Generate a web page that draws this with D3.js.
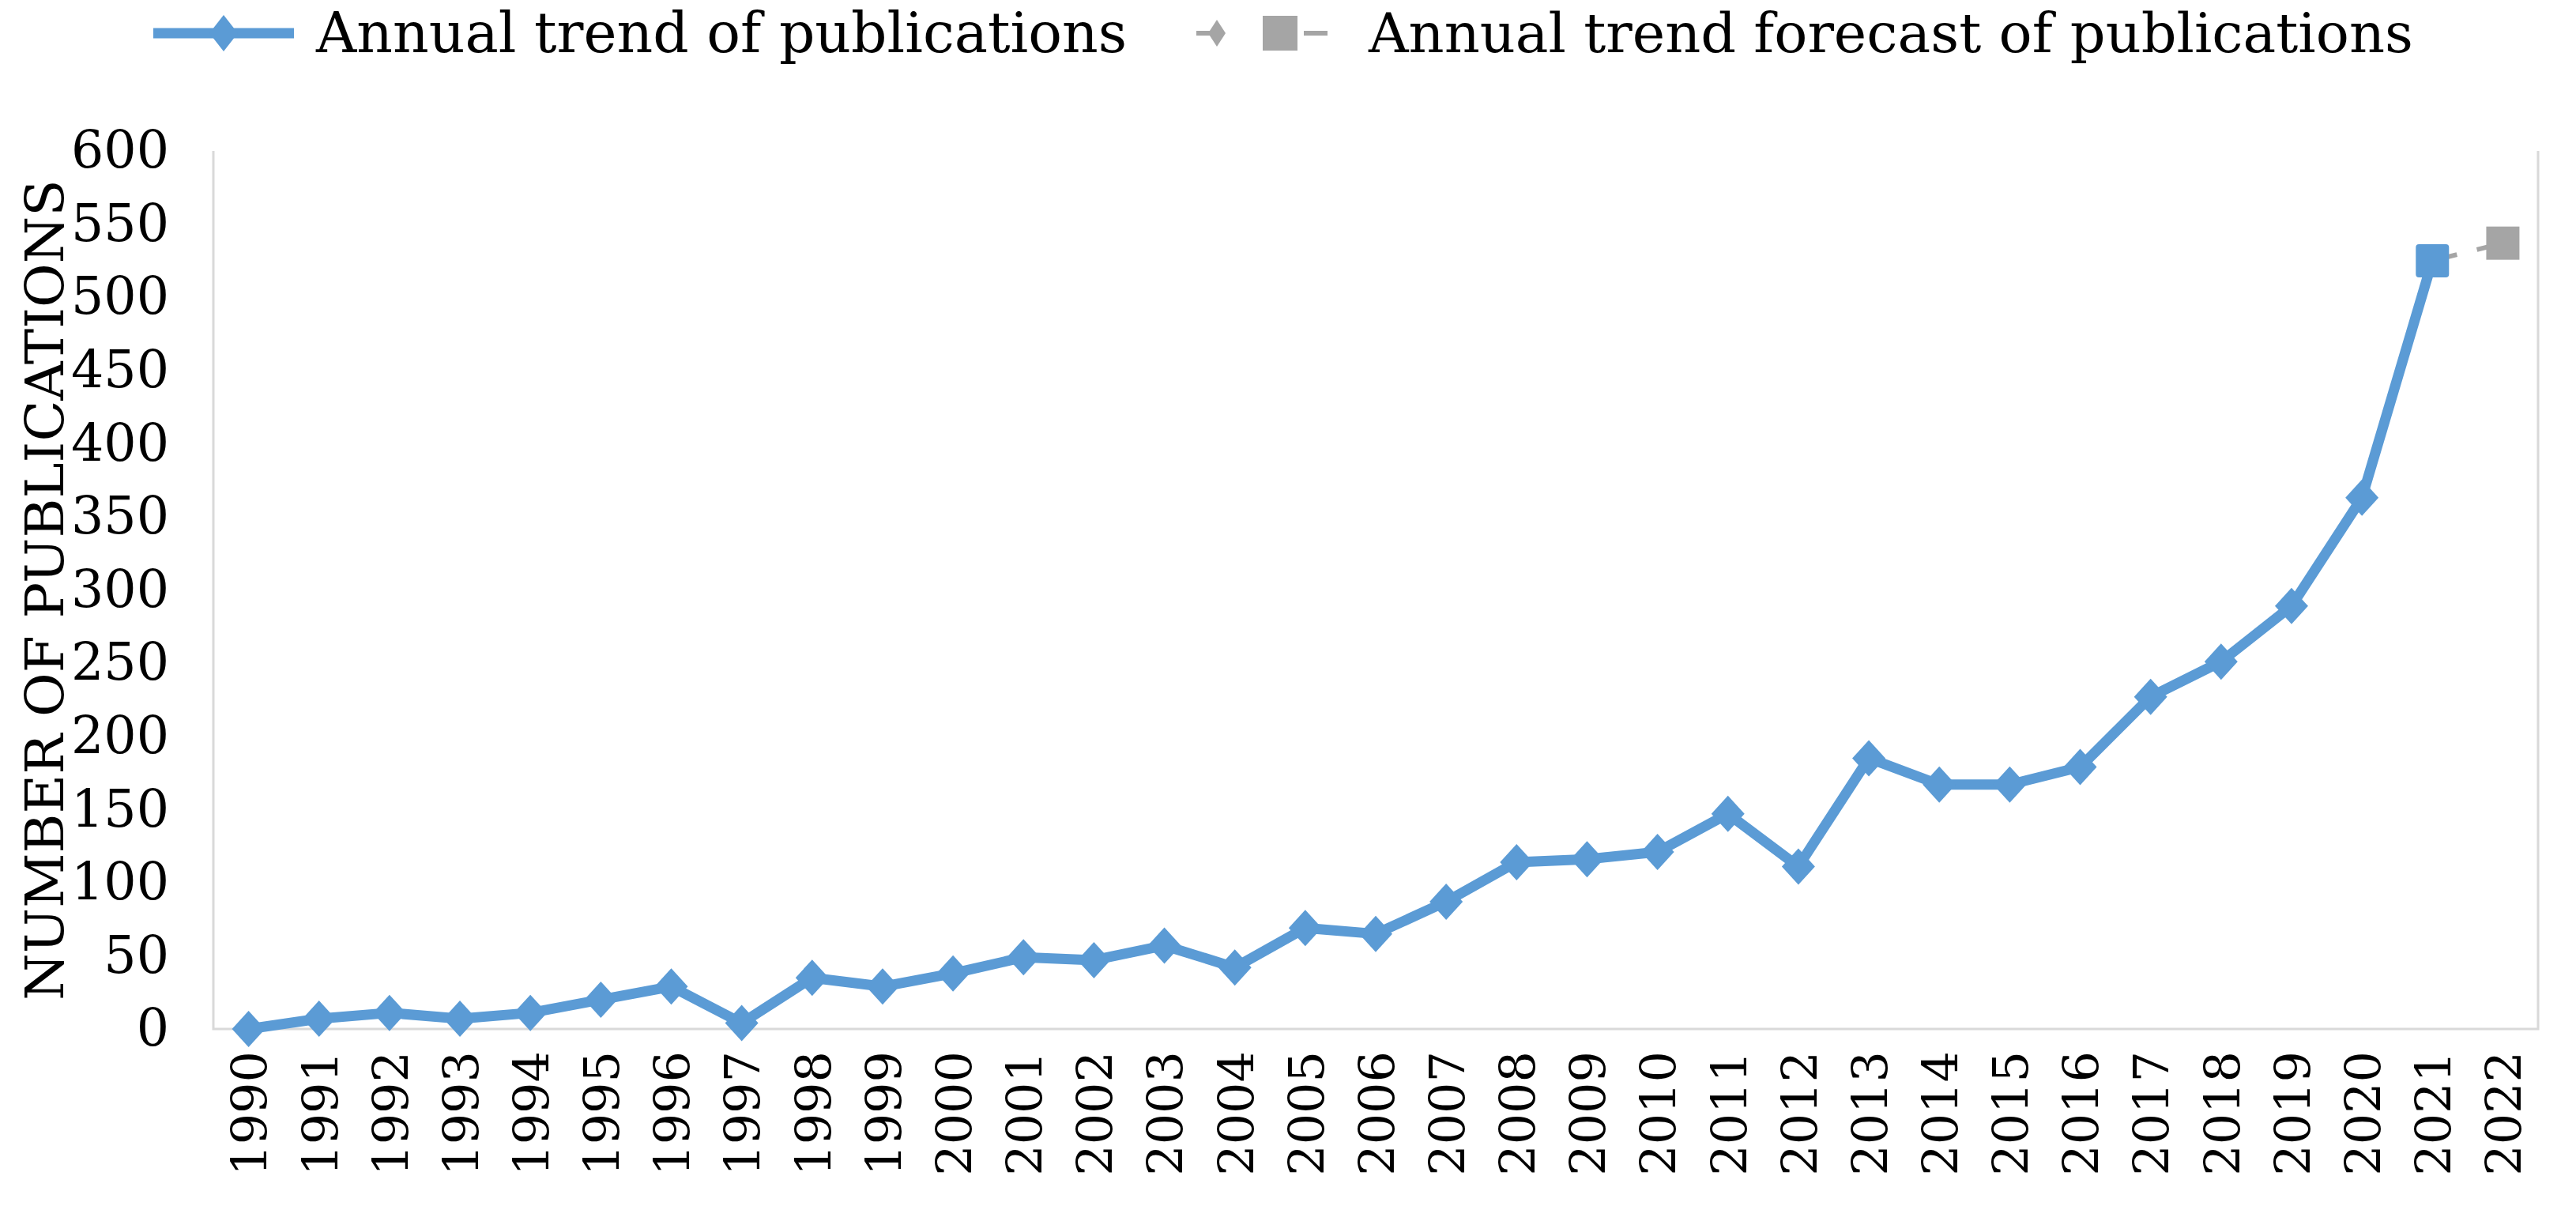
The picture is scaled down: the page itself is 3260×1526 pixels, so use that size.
<!DOCTYPE html>
<html>
<head>
<meta charset="utf-8">
<script src="https://cdn.jsdelivr.net/npm/d3@7"></script>
<style>
  body { margin: 0; background: #fff; }
  text { font-family: "DejaVu Serif", serif; fill: #000; }
</style>
</head>
<body>
<svg id="chart"></svg>
<script>
// tick labels / categories
const years = ["1990","1991","1992","1993","1994","1995","1996","1997","1998","1999",
  "2000","2001","2002","2003","2004","2005","2006","2007","2008","2009","2010",
  "2011","2012","2013","2014","2015","2016","2017","2018","2019","2020","2021","2022"];
const yTicks = [0, 50, 100, 150, 200, 250, 300, 350, 400, 450, 500, 550, 600];

// annual publications 1990-2021
const pubYears = years.slice(0, 32);
const pubValues = [0, 7, 11, 7, 11, 20, 29, 4, 35, 29, 38, 49, 47, 57, 42, 69, 65, 87,
  114, 116, 121, 147, 111, 185, 167, 167, 179, 227, 251, 289, 363, 525];

// forecast
const fcYears = ["2021", "2022"];
const fcValues = [525, 537];

const seriesNames = ["Annual trend of publications", "Annual trend forecast of publications"];

const W = 3260, H = 1526;
const blue = "#5b9bd5", grey = "#a5a5a5", border = "#d9d9d9";
const plot = {left: 270, right: 3212, top: 191, bottom: 1302};

const svg = d3.select("#chart").attr("width", W).attr("height", H);

const x = d3.scalePoint().domain(years).range([plot.left, plot.right]).padding(0.5);
const y = d3.scaleLinear().domain([0, 600]).range([plot.bottom, plot.top]);

// plot area border (left, bottom, right)
svg.append("path")
    .attr("d", `M${plot.left},${plot.top}V${plot.bottom}H${plot.right}V${plot.top}`)
    .attr("fill", "none").attr("stroke", border).attr("stroke-width", 3);

// y axis
const yAxis = svg.append("g")
    .attr("transform", `translate(${plot.left},0)`)
    .call(d3.axisLeft(y).tickValues(yTicks).tickSize(0).tickPadding(56));
yAxis.select(".domain").remove();
yAxis.selectAll("text").style("font-size", "65px").style("font-family", "DejaVu Serif");

// x axis
const xAxis = svg.append("g")
    .attr("transform", `translate(0,${plot.bottom})`)
    .call(d3.axisBottom(x).tickSize(0));
xAxis.select(".domain").remove();
xAxis.selectAll("text")
    .style("font-size", "62px").style("font-family", "DejaVu Serif")
    .attr("transform", "rotate(-90)")
    .attr("text-anchor", "end")
    .attr("x", -28).attr("y", 0).attr("dy", "0.36em");

// y title
svg.append("text")
    .attr("transform", `translate(56,${(plot.top + plot.bottom) / 2}) rotate(-90)`)
    .attr("text-anchor", "middle").attr("dominant-baseline", "central")
    .style("font-size", "68px")
    .text("NUMBER OF PUBLICATIONS");

const line = d3.line().x(d => x(d[0])).y(d => y(d[1]));
const diamond = (hw, hh) => `M0,${-hh}L${hw},0L0,${hh}L${-hw},0Z`;

// forecast dashed line
svg.append("path")
    .datum(fcYears.map((yr, i) => [yr, fcValues[i]]))
    .attr("d", line)
    .attr("fill", "none").attr("stroke", grey).attr("stroke-width", 6)
    .attr("stroke-dasharray", "32,26");

// main line
const pubData = pubYears.map((yr, i) => [yr, pubValues[i]]);
svg.append("path")
    .datum(pubData)
    .attr("d", line)
    .attr("fill", "none").attr("stroke", blue).attr("stroke-width", 13)
    .attr("stroke-linejoin", "round");

// diamond markers (all but the last year)
svg.append("g").selectAll("path")
    .data(pubData.slice(0, -1))
    .join("path")
    .attr("transform", d => `translate(${x(d[0])},${y(d[1])})`)
    .attr("d", diamond(21, 23))
    .attr("fill", blue);

// square markers: last actual year (blue) and forecast (grey)
svg.append("rect")
    .attr("x", x(pubYears[31]) - 21).attr("y", y(pubValues[31]) - 21)
    .attr("width", 42).attr("height", 42).attr("rx", 4)
    .attr("fill", blue);
svg.append("rect")
    .attr("x", x(fcYears[1]) - 21).attr("y", y(fcValues[1]) - 21)
    .attr("width", 42).attr("height", 42)
    .attr("fill", grey);

// legend
const leg = svg.append("g");
const ly = 42;
leg.append("line").attr("x1", 194).attr("x2", 372).attr("y1", ly).attr("y2", ly)
    .attr("stroke", blue).attr("stroke-width", 13);
leg.append("path").attr("transform", `translate(283,${ly})`)
    .attr("d", diamond(18, 23)).attr("fill", blue);
leg.append("text").attr("x", 400).attr("y", 66)
    .style("font-size", "71px").text(seriesNames[0]);

leg.append("line").attr("x1", 1514).attr("x2", 1532).attr("y1", ly).attr("y2", ly)
    .attr("stroke", grey).attr("stroke-width", 6);
leg.append("path").attr("transform", `translate(1540,${ly})`)
    .attr("d", diamond(11, 17)).attr("fill", grey);
leg.append("rect").attr("x", 1598).attr("y", ly - 22).attr("width", 44).attr("height", 44)
    .attr("fill", grey);
leg.append("line").attr("x1", 1650).attr("x2", 1680).attr("y1", ly).attr("y2", ly)
    .attr("stroke", grey).attr("stroke-width", 6);
leg.append("text").attr("x", 1732).attr("y", 66)
    .style("font-size", "70px").text(seriesNames[1]);
</script>
</body>
</html>
